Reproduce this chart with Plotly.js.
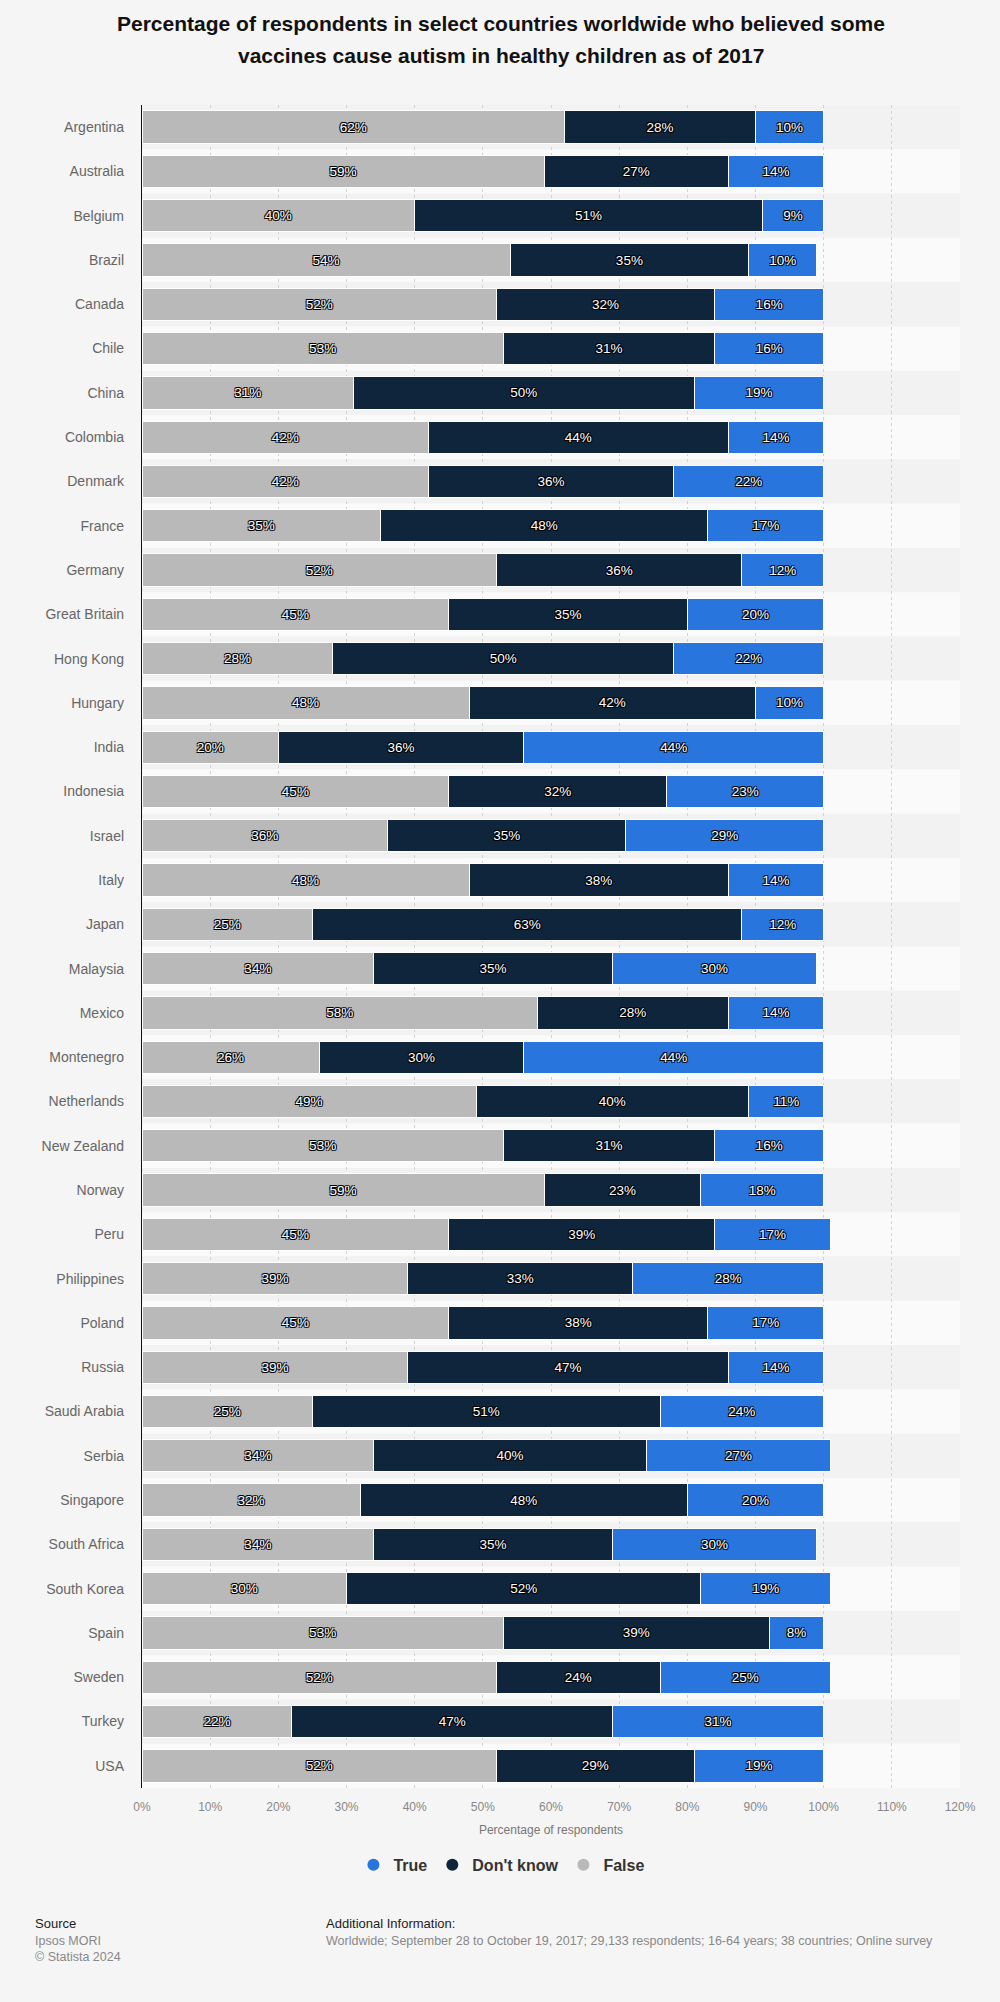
<!DOCTYPE html>
<html>
<head>
<meta charset="utf-8">
<script src="https://cdn.plot.ly/plotly-3.0.1.min.js"></script>
<style>
  html, body { margin: 0; padding: 0; background: #f5f5f5; }
  #chart { width: 1000px; height: 2002px; }
</style>
</head>
<body>
<div id="chart"></div>
<script>
const countries = ["Argentina","Australia","Belgium","Brazil","Canada","Chile","China","Colombia","Denmark","France","Germany","Great Britain","Hong Kong","Hungary","India","Indonesia","Israel","Italy","Japan","Malaysia","Mexico","Montenegro","Netherlands","New Zealand","Norway","Peru","Philippines","Poland","Russia","Saudi Arabia","Serbia","Singapore","South Africa","South Korea","Spain","Sweden","Turkey","USA"];
const falseVals = [62,59,40,54,52,53,31,42,42,35,52,45,28,48,20,45,36,48,25,34,58,26,49,53,59,45,39,45,39,25,34,32,34,30,53,52,22,52];
const dontKnowVals = [28,27,51,35,32,31,50,44,36,48,36,35,50,42,36,32,35,38,63,35,28,30,40,31,23,39,33,38,47,51,40,48,35,52,39,24,47,29];
const trueVals = [10,14,9,10,16,16,19,14,22,17,12,20,22,10,44,23,29,14,12,30,14,44,11,16,18,17,28,17,14,24,27,20,30,19,8,25,31,19];
const seriesNames = ["False","Don't know","True"];
const seriesColors = ["#b9b9b9","#0f253c","#2876dd"];
const xTickVals = [0,10,20,30,40,50,60,70,80,90,100,110,120];
const xTickText = xTickVals.map(v => v + "%");

const font = "Liberation Sans, Arial, Helvetica, sans-serif";
const shadow = "1px 1px 0 #000, -1px -1px 0 #000, 1px -1px 0 #000, -1px 1px 0 #000";

const seriesVals = [falseVals, dontKnowVals, trueVals];
const traces = seriesVals.map((vals, i) => ({
  type: "bar",
  orientation: "h",
  name: seriesNames[i],
  y: countries,
  x: vals,
  text: vals.map(v => v + "%"),
  texttemplate: "%{text}",
  marker: { color: seriesColors[i], line: { color: "#ffffff", width: 1 } },
  textposition: "inside",
  insidetextanchor: "middle",
  constraintext: "none",
  textfont: { family: font, size: 13.5, color: "#ffffff", shadow: shadow },
  hoverinfo: "x+y+name",
  showlegend: false
}));

// legend-only traces (circle markers), order: True, Don't know, False
[2, 1, 0].forEach(i => {
  traces.push({
    type: "scatter",
    mode: "markers",
    name: seriesNames[i],
    x: [null], y: [null],
    marker: { color: seriesColors[i], size: 16, symbol: "circle" },
    showlegend: true,
    hoverinfo: "skip"
  });
});

const shapes = countries.map((c, i) => ({
  type: "rect",
  xref: "paper", yref: "y",
  x0: 0, x1: 1,
  y0: i - 0.5, y1: i + 0.5,
  fillcolor: i % 2 === 0 ? "#f2f2f2" : "#fafafa",
  line: { width: 0 },
  layer: "below"
}));

const layout = {
  width: 1000,
  height: 2002,
  paper_bgcolor: "#f5f5f5",
  plot_bgcolor: "rgba(0,0,0,0)",
  margin: { l: 142, r: 40, t: 105, b: 214 },
  barmode: "stack",
  bargap: 0.27,
  font: { family: font },
  xaxis: {
    range: [0, 120],
    tickmode: "array",
    tickvals: xTickVals,
    ticktext: xTickText,
    showgrid: true,
    gridcolor: "#d3d3d3",
    griddash: "dot",
    gridwidth: 1,
    zeroline: false,
    showline: false,
    ticks: "outside",
    ticklen: 8,
    tickcolor: "rgba(0,0,0,0)",
    tickfont: { family: font, size: 12, color: "#888888" },
    title: { text: "Percentage of respondents", font: { family: font, size: 12, color: "#777777" }, standoff: 12 },
    fixedrange: true
  },
  yaxis: {
    type: "category",
    autorange: "reversed",
    showgrid: false,
    zeroline: false,
    showline: true,
    linecolor: "#111111",
    linewidth: 1.3,
    ticks: "outside",
    ticklen: 14,
    tickcolor: "rgba(0,0,0,0)",
    tickfont: { family: font, size: 14, color: "#666666" },
    fixedrange: true
  },
  shapes: shapes,
  showlegend: true,
  legend: {
    orientation: "h",
    traceorder: "normal",
    x: 0.44, xanchor: "center",
    y: -0.0457, yanchor: "middle",
    font: { family: font, size: 16, color: "#333333", weight: "bold" },
    itemsizing: "constant",
    bgcolor: "rgba(0,0,0,0)",
    itemclick: false, itemdoubleclick: false
  },
  annotations: [
    { text: "<b>Percentage of respondents in select countries worldwide who believed some</b>", xref: "paper", yref: "paper", x: 0.4389, y: 1.0487, xanchor: "center", yanchor: "middle", showarrow: false, font: { family: font, size: 21, color: "#111111" } },
    { text: "<b>vaccines cause autism in healthy children as of 2017</b>", xref: "paper", yref: "paper", x: 0.4389, y: 1.0297, xanchor: "center", yanchor: "middle", showarrow: false, font: { family: font, size: 21, color: "#111111" } },
    { text: "Source", xref: "paper", yref: "paper", x: -0.1333, y: -0.0808, xanchor: "left", yanchor: "middle", showarrow: false, font: { family: font, size: 13, color: "#222222" } },
    { text: "Ipsos MORI", xref: "paper", yref: "paper", x: -0.1333, y: -0.0909, xanchor: "left", yanchor: "middle", showarrow: false, font: { family: font, size: 12.5, color: "#888888" } },
    { text: "© Statista 2024", xref: "paper", yref: "paper", x: -0.1333, y: -0.1004, xanchor: "left", yanchor: "middle", showarrow: false, font: { family: font, size: 12.5, color: "#888888" } },
    { text: "Additional Information:", xref: "paper", yref: "paper", x: 0.2225, y: -0.0808, xanchor: "left", yanchor: "middle", showarrow: false, font: { family: font, size: 13, color: "#222222" } },
    { text: "Worldwide; September 28 to October 19, 2017; 29,133 respondents; 16-64 years; 38 countries; Online survey", xref: "paper", yref: "paper", x: 0.2225, y: -0.0909, xanchor: "left", yanchor: "middle", showarrow: false, font: { family: font, size: 12.5, color: "#888888" } }
  ]
};

Plotly.newPlot("chart", traces, layout, { displayModeBar: false });
</script>
</body>
</html>
